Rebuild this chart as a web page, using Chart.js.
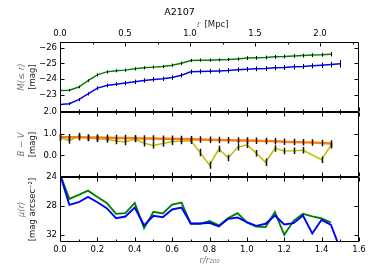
<!DOCTYPE html>
<html>
<head>
<meta charset="utf-8">
<script src="https://cdn.jsdelivr.net/npm/chart.js@4"></script>
<style>
  html, body { margin: 0; padding: 0; background: #fff; }
  #wrap { width: 374px; height: 280px; position: relative; }
</style>
</head>
<body>
<div id="wrap"><canvas id="chart"></canvas></div>
<script>
// Radial bins, in units of r200
const rBins = [0.00, 0.05, 0.10, 0.15, 0.20, 0.25, 0.30, 0.35, 0.40, 0.45,
               0.50, 0.55, 0.60, 0.65, 0.70, 0.75, 0.80, 0.85, 0.90, 0.95,
               1.00, 1.05, 1.10, 1.15, 1.20, 1.25, 1.30, 1.35, 1.40, 1.45, 1.50];

// Top panel: cumulative magnitude M(<=r)
const magV = [-23.28, -23.30, -23.50, -23.90, -24.27, -24.46, -24.53, -24.57, -24.65, -24.72,
              -24.76, -24.80, -24.88, -25.00, -25.18, -25.20, -25.20, -25.22, -25.24, -25.28,
              -25.33, -25.35, -25.37, -25.41, -25.43, -25.47, -25.49, -25.52, -25.54, -25.58];
const magVErr = [0.08, 0.08, 0.08, 0.08, 0.1, 0.1, 0.1, 0.1, 0.1, 0.1,
                 0.1, 0.1, 0.1, 0.1, 0.1, 0.1, 0.1, 0.1, 0.1, 0.1,
                 0.12, 0.12, 0.12, 0.12, 0.12, 0.12, 0.12, 0.12, 0.12, 0.14];
const magB = [-22.40, -22.44, -22.70, -23.07, -23.43, -23.60, -23.68, -23.75, -23.83, -23.92,
              -23.98, -24.02, -24.10, -24.25, -24.46, -24.48, -24.50, -24.52, -24.55, -24.60,
              -24.63, -24.65, -24.67, -24.72, -24.74, -24.78, -24.80, -24.84, -24.88, -24.92, -24.97];
const magBErr = [0.08, 0.08, 0.1, 0.1, 0.12, 0.12, 0.12, 0.14, 0.14, 0.14,
                 0.14, 0.14, 0.14, 0.14, 0.15, 0.15, 0.15, 0.15, 0.15, 0.15,
                 0.15, 0.15, 0.15, 0.16, 0.16, 0.16, 0.16, 0.16, 0.17, 0.18, 0.24];

// Middle panel: B-V colour (annulus and cumulative)
const bvRing = [0.82, 0.68, 0.89, 0.80, 0.76, 0.73, 0.66, 0.62, 0.75, 0.56,
                0.46, 0.55, 0.63, 0.66, 0.67, 0.13, -0.45, 0.29, -0.12, 0.37,
                0.49, 0.10, -0.32, 0.32, 0.20, 0.21, 0.23, null, -0.20, 0.47];
const bvRingErr = [0.15, 0.15, 0.15, 0.15, 0.15, 0.15, 0.15, 0.15, 0.15, 0.15,
                   0.15, 0.15, 0.15, 0.15, 0.15, 0.17, 0.17, 0.15, 0.15, 0.15,
                   0.15, 0.15, 0.17, 0.15, 0.15, 0.15, 0.15, null, 0.15, 0.15];
const bvCum = [0.84, 0.835, 0.83, 0.825, 0.82, 0.81, 0.80, 0.795, 0.79, 0.78,
               0.775, 0.77, 0.76, 0.75, 0.74, 0.73, 0.72, 0.71, 0.70, 0.69,
               0.68, 0.67, 0.66, 0.65, 0.63, 0.62, 0.60, 0.59, 0.57, 0.55];
const bvCumErr = [0.15, 0.15, 0.15, 0.15, 0.15, 0.15, 0.15, 0.15, 0.15, 0.15,
                  0.15, 0.15, 0.15, 0.15, 0.15, 0.15, 0.15, 0.15, 0.15, 0.15,
                  0.15, 0.15, 0.15, 0.15, 0.15, 0.15, 0.15, 0.15, 0.15, 0.15];

// Bottom panel: surface brightness mu(r)
const muV = [23.6, 27.03, 26.48, 25.89, 26.76, 27.59, 29.10, 29.01, 27.59, 31.08,
             28.83, 29.06, 27.82, 27.54, 30.48, 30.48, 30.11, 30.71, 29.70, 29.01,
             30.30, 30.85, 30.94, 28.87, 32.00, 30.07, 29.10, 29.45, 29.75, 30.30];
const muB = [23.6, 27.86, 27.49, 26.76, 27.49, 28.32, 29.70, 29.47, 28.23, 30.71,
             29.38, 29.56, 28.50, 28.23, 30.44, 30.44, 30.34, 30.85, 29.79, 29.61,
             30.25, 30.76, 30.48, 29.33, 30.57, 30.39, 29.33, 31.82, 29.93, 30.62, 34.0];

// Tick labels
const xTicks = [0.0, 0.2, 0.4, 0.6, 0.8, 1.0, 1.2, 1.4, 1.6];
const xMinorTicks = [0.1, 0.3, 0.5, 0.7, 0.9, 1.1, 1.3, 1.5];
const mpcTicks = [0.0, 0.5, 1.0, 1.5, 2.0];
const mpcMinorTicks = [0.25, 0.75, 1.25, 1.75, 2.25];
const magTicks = [-26, -25, -24, -23];
const bvTicks = [2.0, 1.5, 1.0, 0.5, 0.0, -0.5];
const muTicks = [24, 26, 28, 30, 32];

const pts = (ys) => ys.map((y, i) => ({ x: rBins[i], y: y }));
const minus = (s) => s.replace('-', '\u2212');

Chart.defaults.font.family = 'DejaVu Sans';
Chart.defaults.font.size = 8.5;
Chart.defaults.color = '#000';

// error bars drawn through the dataset's own y scale
const errorBarPlugin = {
    id: 'errorBars',
    afterDatasetsDraw(chart) {
        const ctx = chart.ctx;
        chart.data.datasets.forEach((ds, i) => {
            if (!ds.errors) return;
            const meta = chart.getDatasetMeta(i);
            const ys = chart.scales[ds.yAxisID];
            ctx.save();
            ctx.strokeStyle = ds.errorColor || '#000';
            ctx.lineWidth = ds.errorWidth || 1;
            ctx.beginPath();
            meta.data.forEach((pt, j) => {
                const v = ds.data[j].y;
                const e = ds.errors[j];
                if (v == null || e == null) return;
                const px = Math.round(pt.x) + 0.5;
                ctx.moveTo(px, ys.getPixelForValue(v - e));
                ctx.lineTo(px, ys.getPixelForValue(v + e));
            });
            ctx.stroke();
            ctx.restore();
        });
    }
};

// panel frames, inward ticks and axis titles
const panelPlugin = {
    id: 'panels',
    afterDatasetsDraw(chart) {
        const ctx = chart.ctx;
        const area = chart.chartArea;
        const xs = chart.scales.x;
        const xm = chart.scales.xMpc;
        const L = Math.round(area.left) + 0.5;
        const R = Math.round(area.right) - 0.5;
        ctx.save();
        ctx.strokeStyle = '#000';
        ctx.lineWidth = 1;
        ctx.beginPath();
        ['yMag', 'yCol', 'yMu'].forEach(id => {
            const s = chart.scales[id];
            const T = Math.round(s.top) + 0.5;
            const B = Math.round(s.bottom) - 0.5;
            ctx.moveTo(L, T); ctx.lineTo(R, T); ctx.lineTo(R, B); ctx.lineTo(L, B); ctx.closePath();
            s.ticks.forEach(t => {
                const py = Math.round(s.getPixelForValue(t.value)) + 0.5;
                ctx.moveTo(L, py); ctx.lineTo(L + 4, py);
                ctx.moveTo(R, py); ctx.lineTo(R - 4, py);
            });
            const drawX = (v, len) => {
                const px = Math.round(xs.getPixelForValue(v)) + 0.5;
                ctx.moveTo(px, B); ctx.lineTo(px, B - len);
                if (id !== 'yMag') { ctx.moveTo(px, T); ctx.lineTo(px, T + len); }
            };
            xTicks.forEach(v => drawX(v, 4));
            xMinorTicks.forEach(v => drawX(v, 2));
        });
        const top = Math.round(area.top) + 0.5;
        mpcTicks.forEach(v => {
            const px = Math.round(xm.getPixelForValue(v)) + 0.5;
            ctx.moveTo(px, top); ctx.lineTo(px, top + 4);
        });
        mpcMinorTicks.forEach(v => {
            const px = Math.round(xm.getPixelForValue(v)) + 0.5;
            ctx.moveTo(px, top); ctx.lineTo(px, top + 2);
        });
        ctx.stroke();

        // y titles: two lines each
        const titles = {
            yMag: ['M(\u2264 r)', '[mag]'],
            yCol: ['B \u2212 V', '[mag]'],
            yMu: ['\u03bc(r)', '[mag arcsec\u207b\u00b2]']
        };
        ctx.textAlign = 'center';
        ctx.textBaseline = 'middle';
        Object.keys(titles).forEach(id => {
            const s = chart.scales[id];
            const cy = (s.top + s.bottom) / 2;
            ctx.save();
            ctx.translate(22, cy);
            ctx.rotate(-Math.PI / 2);
            ctx.font = 'italic 8.5px "DejaVu Sans"';
            ctx.fillStyle = '#777';
            ctx.fillText(titles[id][0], 0, 0);
            ctx.font = '8.5px "DejaVu Sans"';
            ctx.fillStyle = '#222';
            ctx.fillText(titles[id][1], 0, 11);
            ctx.restore();
        });

        // top axis title: italic r, plain unit
        const cx = (area.left + area.right) / 2;
        ctx.textBaseline = 'middle';
        ctx.textAlign = 'right';
        ctx.font = 'italic 8.5px "DejaVu Sans"';
        ctx.fillStyle = '#777';
        ctx.fillText('r', cx - 9, 25);
        ctx.textAlign = 'left';
        ctx.font = '8.5px "DejaVu Sans"';
        ctx.fillStyle = '#222';
        ctx.fillText('[Mpc]', cx - 5, 25);
        ctx.restore();
    }
};

function yAxis(opts) {
    return Object.assign({
        type: 'linear',
        position: 'left',
        stack: 'panels',
        reverse: false,
        grid: { display: false, drawTicks: false },
        border: { display: false },
        afterFit: s => { s.width = 60; }
    }, opts);
}

const datasets = [
    // top
    { label: 'M V', data: pts(magV), yAxisID: 'yMag', borderColor: '#008000', borderWidth: 1.5,
      errors: magVErr, errorColor: '#000', errorWidth: 1 },
    { label: 'M B', data: pts(magB), yAxisID: 'yMag', borderColor: '#0000ff', borderWidth: 1.5,
      errors: magBErr, errorColor: '#000', errorWidth: 1 },
    // middle
    { label: 'B-V cum', data: pts(bvCum), yAxisID: 'yCol', borderColor: '#ff7f0e', borderWidth: 2.5,
      errors: bvCumErr, errorColor: '#111', errorWidth: 1.5 },
    { label: 'B-V ring', data: pts(bvRing), yAxisID: 'yCol', borderColor: '#bfbf00', borderWidth: 1.5,
      spanGaps: true, errors: bvRingErr, errorColor: '#111', errorWidth: 1.5 },
    // bottom (blue on top)
    { label: 'mu B', data: pts(muB), yAxisID: 'yMu', borderColor: '#0000ff', borderWidth: 1.9 },
    { label: 'mu V', data: pts(muV), yAxisID: 'yMu', borderColor: '#008000', borderWidth: 1.9 }
];
datasets.forEach(d => {
    d.xAxisID = 'x';
    d.pointRadius = 0;
    d.tension = 0;
    d.fill = false;
});

new Chart(document.getElementById('chart'), {
    type: 'line',
    data: { datasets: datasets },
    options: {
        responsive: true,
        maintainAspectRatio: false,
        animation: false,
        layout: { padding: { left: 0, right: 15, top: 0, bottom: 0 } },
        plugins: {
            legend: { display: false },
            tooltip: { enabled: false },
            title: {
                display: true,
                text: 'A2107',
                font: { size: 9.5, weight: 'normal' },
                color: '#000',
                padding: { top: 7, bottom: 0 }
            }
        },
        scales: {
            x: {
                type: 'linear',
                position: 'bottom',
                min: 0, max: 1.6,
                grid: { display: false, drawTicks: false },
                border: { display: false },
                afterBuildTicks: s => { s.ticks = xTicks.map(v => ({ value: v })); },
                ticks: { padding: 3, maxRotation: 0, callback: v => v.toFixed(1) },
                title: { display: true, text: 'r/r\u2082\u2080\u2080', color: '#777',
                         font: { style: 'italic', size: 8.5 }, padding: { top: 0, bottom: 14 } },
                afterFit: s => { s.height = 38; }
            },
            xMpc: {
                type: 'linear',
                position: 'top',
                min: 0, max: 2.3,
                grid: { display: false, drawTicks: false },
                border: { display: false },
                afterBuildTicks: s => { s.ticks = mpcTicks.map(v => ({ value: v })); },
                ticks: { padding: 3, maxRotation: 0, callback: v => v.toFixed(1) },
                afterFit: s => { s.height = 23.6; }
            },
            yMag: yAxis({
                weight: 3, stackWeight: 70, reverse: true, min: -26.35, max: -21.92,
                afterBuildTicks: s => { s.ticks = magTicks.map(v => ({ value: v })); },
                ticks: { padding: 3, callback: v => minus(String(v)) }
            }),
            yCol: yAxis({
                weight: 2, stackWeight: 65, min: -1.0, max: 2.0,
                afterBuildTicks: s => { s.ticks = bvTicks.map(v => ({ value: v })); },
                ticks: { padding: 3, callback: v => minus(v.toFixed(1)) }
            }),
            yMu: yAxis({
                weight: 1, stackWeight: 65, reverse: true, min: 24, max: 33,
                afterBuildTicks: s => { s.ticks = muTicks.map(v => ({ value: v })); },
                ticks: { padding: 3, callback: v => String(v) }
            })
        }
    },
    plugins: [panelPlugin, errorBarPlugin]
});
</script>
</body>
</html>
